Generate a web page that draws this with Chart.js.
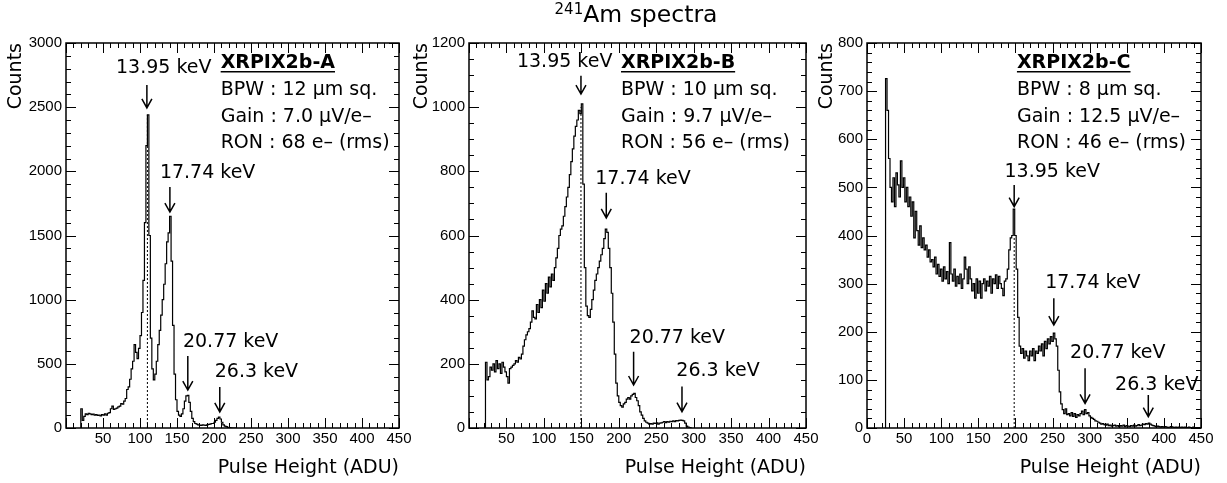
<!DOCTYPE html>
<html>
<head>
<meta charset="utf-8">
<script src="https://cdn.jsdelivr.net/npm/chart.js@4.4.1/dist/chart.umd.min.js"></script>
<style>
  body { margin: 0; background: #fff; }
  #wrap { position: relative; width: 1227px; height: 483px; overflow: hidden; }
  #wrap canvas { position: absolute; left: 0; top: 0; }
  #title { position: absolute; top: 0px; left: 636px; transform: translateX(-50%); font: 23.5px 'DejaVu Sans'; color: #000; white-space: nowrap; }
  #title sup { font-size: 15px; vertical-align: 0; position: relative; top: -0.55em; }
</style>
</head>
<body>
<div id="wrap">
  <canvas id="chartA" width="1227" height="483"></canvas>
  <canvas id="chartB" width="1227" height="483"></canvas>
  <canvas id="chartC" width="1227" height="483"></canvas>
  <div id="title"><sup>241</sup>Am spectra</div>
</div>
<script>
// histogram bins are 2 ADU wide, each list starts at its first bin edge
const binWidth = 2;

// XRPIX2b-A, bins from 20 ADU
const startA = 20;
const countsA = [
  150, 60, 90, 110, 105, 115, 110, 105, 108, 100,
  105, 98, 100, 95, 105, 100, 110, 100, 115, 120,
  150, 170, 145, 150, 155, 165, 170, 190, 185, 210,
  230, 300, 320, 380, 460, 520, 650, 590, 540, 620,
  720, 900, 1150, 1600, 2200, 2440, 1500, 700, 460, 375,
  420, 520, 650, 760, 880, 1000, 1120, 1280, 1450, 1520,
  1650, 1300, 800, 420, 220, 130, 100, 90, 110, 150,
  210, 250, 255, 200, 130, 75, 50, 35, 30, 25,
  22, 20, 25, 22, 20, 25, 28, 30, 35, 35,
  45, 60, 75, 85, 70, 45, 25, 15, 10, 5,
  3, 2, 0, 0, 0
];

// XRPIX2b-B, bins from 22 ADU
const startB = 22;
const countsB = [
  205, 150, 160, 190, 180, 200, 175, 210, 185, 200,
  170, 205, 190, 175, 160, 140, 185, 190, 195, 200,
  210, 205, 220, 215, 230, 255, 275, 290, 300, 310,
  330, 365, 345, 340, 385, 360, 400, 375, 430, 395,
  450, 420, 470, 440, 480, 460, 500, 530, 560, 600,
  620, 630, 660, 690, 720, 750, 790, 830, 870, 910,
  940, 960, 990, 980, 1010, 760, 500, 380, 350, 345,
  370, 400, 430, 460, 480, 500, 520, 540, 560, 590,
  620, 610, 560, 500, 420, 330, 230, 140, 100, 80,
  70, 65, 75, 80, 90, 95, 90, 100, 105, 108,
  95, 85, 70, 50, 40, 30, 22, 18, 15, 12,
  14, 12, 15, 14, 16, 12, 15, 16, 18, 20,
  17, 20, 18, 21, 20, 22, 20, 23, 22, 24,
  25, 24, 22, 15, 6, 3, 1, 0
];

// XRPIX2b-C, bins from 25 ADU
const startC = 25;
const countsC = [
  726, 660, 560, 500, 470, 520, 460, 530, 505, 480,
  555, 500, 520, 470, 500, 460, 480, 440, 470, 395,
  450, 410, 380, 420, 375, 395, 370, 380, 355, 370,
  345, 350, 335, 355, 320, 340, 315, 330, 305, 335,
  310, 325, 300, 385, 320, 305, 330, 295, 315, 300,
  320, 290, 310, 355, 330, 300, 335, 310, 285, 300,
  270, 310, 280, 305, 270, 300, 310, 285, 305, 295,
  315, 280, 310, 300, 318, 290, 315, 300, 290, 275,
  305, 310, 330, 370, 395, 400, 455, 400, 330, 230,
  170, 155, 165, 145, 160, 150, 140, 160, 150, 165,
  140, 160, 155, 170, 160, 175, 150, 180, 165, 185,
  175, 190, 180, 197, 185, 170, 120, 75, 50, 38,
  30, 40, 28, 30, 25, 32, 24, 30, 22, 28,
  25, 30, 35, 28, 38, 30, 32, 25, 22, 20,
  18, 15, 14, 12, 10, 8, 9, 7, 6, 8,
  5, 6, 4, 5, 6, 4, 5, 3, 5, 4,
  6, 3, 5, 4, 3, 5, 4, 6, 4, 5,
  7, 5, 6, 8, 7, 9, 8, 10, 8, 6,
  5, 4, 3, 4, 3, 2, 3, 2, 3, 2,
  1, 2, 3, 2, 1, 2, 1, 2, 1, 2,
  1, 2, 1, 1, 2, 1, 1, 2, 1, 1,
  1, 1
];

// peak names shown above the arrows
const peakLabels = ['13.95 keV', '17.74 keV', '20.77 keV', '26.3 keV'];

// detector info lines for each chip
const infoA = ['XRPIX2b-A', 'BPW : 12 \u03bcm sq.', 'Gain : 7.0 \u03bcV/e\u2013', 'RON : 68 e\u2013 (rms)'];
const infoB = ['XRPIX2b-B', 'BPW : 10 \u03bcm sq.', 'Gain : 9.7 \u03bcV/e\u2013', 'RON : 56 e\u2013 (rms)'];
const infoC = ['XRPIX2b-C', 'BPW : 8 \u03bcm sq.', 'Gain : 12.5 \u03bcV/e\u2013', 'RON : 46 e\u2013 (rms)'];

// turn bin edges + counts into points for a stepped line
function histPoints(start, counts) {
  const pts = [{ x: start, y: 0 }];
  counts.forEach((c, i) => pts.push({ x: start + i * binWidth, y: c }));
  pts.push({ x: start + counts.length * binWidth, y: 0 });
  return pts;
}

// draws the ROOT-like frame, inside ticks, arrows and text
function decoPlugin(p) {
  return {
    id: 'deco' + p.id,
    afterDraw(chart) {
      const { ctx, chartArea: a } = chart;
      const x = chart.scales.x, y = chart.scales.y;
      ctx.save();
      ctx.strokeStyle = '#000';
      ctx.fillStyle = '#000';

      // dotted line under the 13.95 keV peak
      ctx.lineWidth = 1;
      ctx.setLineDash([2, 2]);
      ctx.beginPath();
      ctx.moveTo(x.getPixelForValue(p.lineX), a.bottom);
      ctx.lineTo(x.getPixelForValue(p.lineX), y.getPixelForValue(p.lineTop));
      ctx.stroke();
      ctx.setLineDash([]);

      // arrows + energy labels
      ctx.font = '19px "DejaVu Sans"';
      ctx.textBaseline = 'middle';
      ctx.textAlign = 'left';
      ctx.lineWidth = 1.5;
      p.marks.forEach((m, i) => {
        const ax = x.getPixelForValue(m.ax);
        const top = y.getPixelForValue(m.top);
        const tip = y.getPixelForValue(m.tip);
        ctx.beginPath();
        ctx.moveTo(ax, top);
        ctx.lineTo(ax, tip);
        ctx.moveTo(ax - 5, tip - 9);
        ctx.lineTo(ax, tip);
        ctx.lineTo(ax + 5, tip - 9);
        ctx.stroke();
        ctx.fillText(peakLabels[i], x.getPixelForValue(m.tx), y.getPixelForValue(m.ty));
      });

      // chip info block
      const ix = x.getPixelForValue(p.infoX);
      ctx.font = 'bold 19px "DejaVu Sans"';
      ctx.fillText(p.info[0], ix, a.top + 20);
      ctx.fillRect(ix, a.top + 28, ctx.measureText(p.info[0]).width, 1.5);
      ctx.font = '19px "DejaVu Sans"';
      p.info.slice(1).forEach((t, i) => ctx.fillText(t, ix, a.top + 47 + i * 26.7));

      // frame
      ctx.lineWidth = 1.5;
      ctx.strokeRect(a.left, a.top, a.width, a.height);

      // ticks on all four sides, pointing inwards
      ctx.lineWidth = 1;
      ctx.beginPath();
      for (let v = 0; v <= 450; v += 10) {
        const px = Math.round(x.getPixelForValue(v)) + 0.5;
        const len = v % 50 === 0 ? 10 : 5;
        ctx.moveTo(px, a.bottom); ctx.lineTo(px, a.bottom - len);
        ctx.moveTo(px, a.top); ctx.lineTo(px, a.top + len);
      }
      for (let v = 0; v <= p.yMax; v += p.yMinor) {
        const py = Math.round(y.getPixelForValue(v)) + 0.5;
        const len = v % p.yStep === 0 ? 10 : 5;
        ctx.moveTo(a.left, py); ctx.lineTo(a.left + len, py);
        ctx.moveTo(a.right, py); ctx.lineTo(a.right - len, py);
      }
      ctx.stroke();
      ctx.restore();
    }
  };
}

const tickFont = { family: 'Liberation Sans', size: 15 };
const titleFont = { family: 'DejaVu Sans', size: 19 };

function makeChart(canvasId, p) {
  return new Chart(document.getElementById(canvasId), {
    type: 'line',
    data: {
      datasets: [{
        data: histPoints(p.start, p.counts),
        stepped: 'before',
        borderColor: '#000',
        borderWidth: 1.2,
        pointRadius: 0,
        fill: false
      }]
    },
    options: {
      responsive: false,
      animation: false,
      events: [],
      layout: { padding: { left: p.padLeft, right: p.padRight, top: 43, bottom: 0 } },
      plugins: { legend: { display: false }, tooltip: { enabled: false } },
      scales: {
        x: {
          type: 'linear', min: 0, max: 450,
          afterFit: s => { s.height = 55; },
          grid: { display: false }, border: { display: false },
          ticks: {
            stepSize: 50, autoSkip: false, maxRotation: 0, padding: -6, color: '#000', font: tickFont,
            callback: v => (v === 0 && !p.showZero) ? '' : String(v)
          },
          title: { display: true, text: 'Pulse Height (ADU)', align: 'end', color: '#000', font: titleFont, padding: { top: 0, bottom: 4 } }
        },
        y: {
          min: 0, max: p.yMax,
          afterFit: s => { s.width = p.yWidth; },
          grid: { display: false }, border: { display: false },
          ticks: { stepSize: p.yStep, padding: -4, color: '#000', font: tickFont, callback: v => String(v) },
          title: { display: true, text: 'Counts', align: 'end', color: '#000', font: titleFont, padding: 0 }
        }
      }
    },
    plugins: [decoPlugin(p)]
  });
}

makeChart('chartA', {
  id: 'A', start: startA, counts: countsA, info: infoA,
  padLeft: 5, yWidth: 61, padRight: 828, showZero: false,
  yMax: 3000, yStep: 500, yMinor: 100,
  lineX: 110, lineTop: 2440, infoX: 209,
  marks: [
    { ax: 109.3, top: 2673, tip: 2494, tx: 67.5, ty: 2806 },
    { ax: 140.4, top: 1878, tip: 1683, tx: 126.9, ty: 1988 },
    { ax: 164.6, top: 561, tip: 296, tx: 158, ty: 670 },
    { ax: 207.8, top: 320, tip: 125, tx: 201, ty: 436 }
  ]
});

makeChart('chartB', {
  id: 'B', start: startB, counts: countsB, info: infoB,
  padLeft: 411, yWidth: 58, padRight: 421, showZero: false,
  yMax: 1200, yStep: 200, yMinor: 50,
  lineX: 149.5, lineTop: 1000, infoX: 203,
  marks: [
    { ax: 149.5, top: 1098, tip: 1041, tx: 64, ty: 1140 },
    { ax: 183.3, top: 733, tip: 655, tx: 168.6, ty: 775 },
    { ax: 219.8, top: 238, tip: 134, tx: 214.4, ty: 280 },
    { ax: 284.4, top: 129, tip: 51, tx: 276.8, ty: 176 }
  ]
});

makeChart('chartC', {
  id: 'C', start: startC, counts: countsC, info: infoC,
  padLeft: 816, yWidth: 51, padRight: 26, showZero: true,
  yMax: 800, yStep: 100, yMinor: 20,
  lineX: 198.3, lineTop: 395, infoX: 202,
  marks: [
    { ax: 198.3, top: 505, tip: 460, tx: 185.2, ty: 532.5 },
    { ax: 251.7, top: 269.5, tip: 214, tx: 240, ty: 300.6 },
    { ax: 293.8, top: 124, tip: 51, tx: 273.6, ty: 155 },
    { ax: 379, top: 68.6, tip: 23.5, tx: 334.2, ty: 89 }
  ]
});
</script>
</body>
</html>
